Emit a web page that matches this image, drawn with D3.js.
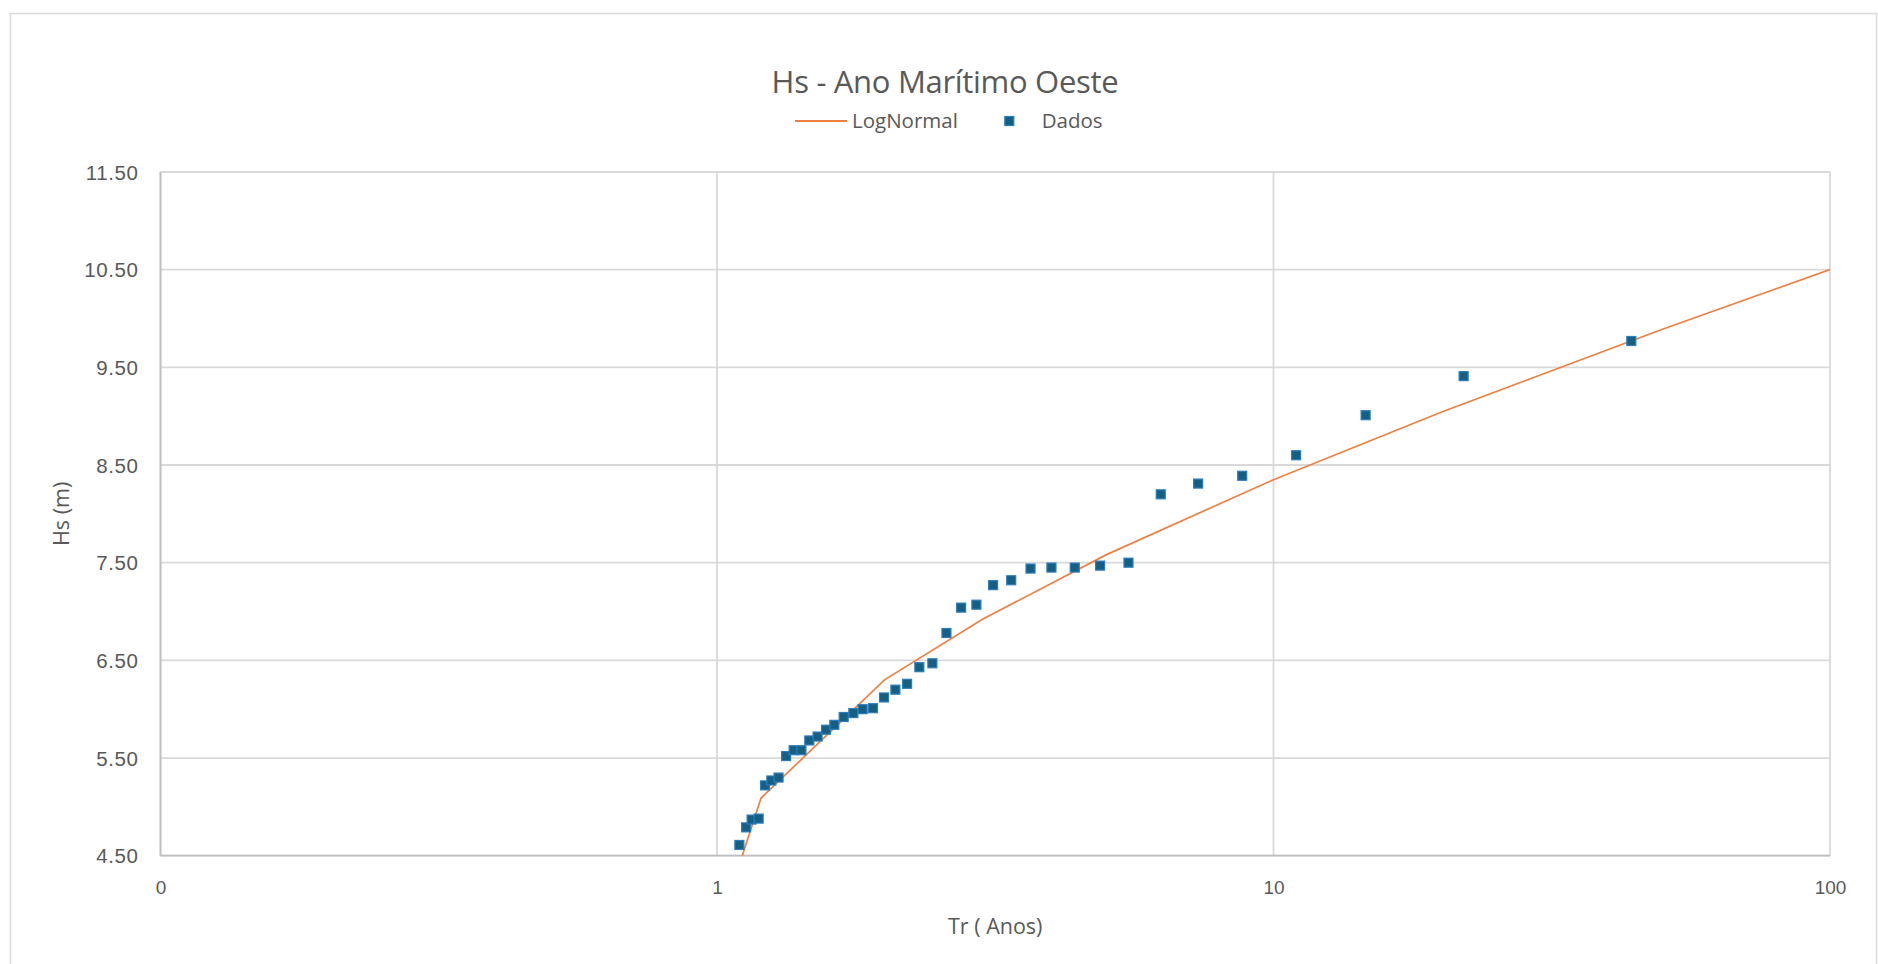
<!DOCTYPE html>
<html>
<head>
<meta charset="utf-8">
<script src="https://cdn.jsdelivr.net/npm/d3@7"></script>
<style>
  html, body { margin: 0; padding: 0; background: #ffffff; }
  svg { display: block; }
  text { font-family: "Open Sans", "Noto Sans", sans-serif; fill: #595959; }
</style>
</head>
<body>
<svg id="chart" width="1878" height="964"></svg>
<script>
// Observed return periods (years) and significant wave heights (m)
const dataReturnPeriod = [1.097, 1.128, 1.154, 1.188, 1.220, 1.252, 1.290, 1.331, 1.373, 1.418,
                          1.465, 1.516, 1.570, 1.625, 1.689, 1.758, 1.827, 1.907, 1.996, 2.092,
                          2.196, 2.310, 2.438, 2.584, 2.746, 2.925, 3.134, 3.378, 3.659, 3.990,
                          4.394, 4.880, 5.488, 6.272, 7.32, 8.785, 10.98, 14.64, 21.96, 43.95];
const dataHs = [4.61, 4.79, 4.87, 4.88, 5.22, 5.27, 5.30, 5.52, 5.58, 5.58,
                5.68, 5.72, 5.79, 5.84, 5.92, 5.96, 6.00, 6.01, 6.12, 6.20,
                6.26, 6.43, 6.47, 6.78, 7.04, 7.07, 7.27, 7.32, 7.44, 7.45,
                7.45, 7.47, 7.50, 8.20, 8.31, 8.39, 8.60, 9.01, 9.41, 9.77];

// Fitted LogNormal curve
const fitReturnPeriod = [1.01, 1.2, 2, 3, 5, 10, 20, 50, 100];
const fitHs = [3.78, 5.09, 6.30, 6.92, 7.58, 8.35, 9.04, 9.89, 10.50];

// Axis ticks
const xTickValues = [0.1, 1, 10, 100];
const xTickLabels = ["0", "1", "10", "100"];
const yTickValues = [4.5, 5.5, 6.5, 7.5, 8.5, 9.5, 10.5, 11.5];
const yTickLabels = ["4.50", "5.50", "6.50", "7.50", "8.50", "9.50", "10.50", "11.50"];

const titleText = "Hs - Ano Marítimo Oeste";
const seriesNames = ["LogNormal", "Dados"];
const xTitle = "Tr ( Anos)";
const yTitle = "Hs (m)";

const W = 1878, H = 964;
const plot = { left: 160.5, top: 172, right: 1830, bottom: 855.7 };
const lineColor = "#EC8043";
const markerFill = "#156082";
const markerStroke = "#2B7DBF";
const gridColor = "#D9D9D9";
const axisColor = "#BFBFBF";

const svg = d3.select("#chart");

svg.append("rect").attr("x", 0).attr("y", 0).attr("width", W).attr("height", H).attr("fill", "#fff");
// chart frame
svg.append("rect")
  .attr("x", 10.5).attr("y", 13.5).attr("width", 1866).attr("height", 1000)
  .attr("fill", "none").attr("stroke", "#D9D9D9").attr("stroke-width", 1.5);

const x = d3.scaleLog().domain([0.1, 100]).range([plot.left, plot.right]);
const y = d3.scaleLinear().domain([4.5, 11.5]).range([plot.bottom, plot.top]);

// gridlines
const grid = svg.append("g");
grid.selectAll("line.h").data(yTickValues).join("line")
  .attr("x1", plot.left).attr("x2", plot.right)
  .attr("y1", d => y(d)).attr("y2", d => y(d))
  .attr("stroke", gridColor).attr("stroke-width", 1.8);
grid.selectAll("line.v").data(xTickValues).join("line")
  .attr("y1", plot.top).attr("y2", plot.bottom)
  .attr("x1", d => x(d)).attr("x2", d => x(d))
  .attr("stroke", gridColor).attr("stroke-width", 1.8);

// axis lines
svg.append("line").attr("x1", plot.left).attr("x2", plot.left)
  .attr("y1", plot.top).attr("y2", plot.bottom).attr("stroke", axisColor).attr("stroke-width", 1.8);
svg.append("line").attr("x1", plot.left).attr("x2", plot.right)
  .attr("y1", plot.bottom).attr("y2", plot.bottom).attr("stroke", axisColor).attr("stroke-width", 1.8);

// axes (labels only)
const xAxis = d3.axisBottom(x).tickValues(xTickValues)
  .tickFormat((d, i) => xTickLabels[i]).tickSize(0).tickPadding(0);
const gx = svg.append("g").attr("transform", `translate(0,${plot.bottom})`).call(xAxis);
gx.select(".domain").remove();
gx.selectAll("text").attr("y", 32).attr("dy", "0.35em")
  .style("font-family", "'Liberation Sans', Arial, sans-serif").style("font-size", "19px").attr("fill", "#595959");

const yAxis = d3.axisLeft(y).tickValues(yTickValues)
  .tickFormat((d, i) => yTickLabels[i]).tickSize(0).tickPadding(0);
const gy = svg.append("g").attr("transform", `translate(${plot.left},0)`).call(yAxis);
gy.select(".domain").remove();
gy.selectAll("text").attr("x", -22).attr("dy", "0.35em")
  .style("font-family", "'Liberation Sans', Arial, sans-serif").style("font-size", "20.5px")
  .style("letter-spacing", "0.6px").attr("fill", "#595959");

// clip region for the series
svg.append("clipPath").attr("id", "plotClip")
  .append("rect").attr("x", plot.left).attr("y", plot.top)
  .attr("width", plot.right - plot.left).attr("height", plot.bottom - plot.top);

const fit = fitReturnPeriod.map((t, i) => [t, fitHs[i]]);
const line = d3.line().x(d => x(d[0])).y(d => y(d[1]));
svg.append("path").datum(fit)
  .attr("clip-path", "url(#plotClip)")
  .attr("d", line).attr("fill", "none")
  .attr("stroke", lineColor).attr("stroke-width", 1.7);

const pts = dataReturnPeriod.map((t, i) => [t, dataHs[i]]);
const ms = 9;
svg.append("g").selectAll("rect").data(pts).join("rect")
  .attr("x", d => x(d[0]) - ms / 2).attr("y", d => y(d[1]) - ms / 2)
  .attr("width", ms).attr("height", ms)
  .attr("fill", markerFill).attr("stroke", markerStroke).attr("stroke-width", 1.2);

// title
svg.append("text").attr("x", 945).attr("y", 82).attr("dy", "0.35em")
  .attr("text-anchor", "middle").style("font-size", "31px").style("letter-spacing", "-0.3px")
  .text(titleText);

// legend
const lg = svg.append("g");
lg.append("line").attr("x1", 795).attr("x2", 847).attr("y1", 121).attr("y2", 121)
  .attr("stroke", lineColor).attr("stroke-width", 1.8);
lg.append("text").attr("x", 852).attr("y", 121).attr("dy", "0.35em")
  .style("font-size", "20.5px").text(seriesNames[0]);
lg.append("rect").attr("x", 1009.3 - ms / 2).attr("y", 121 - ms / 2).attr("width", ms).attr("height", ms)
  .attr("fill", markerFill).attr("stroke", markerStroke).attr("stroke-width", 1.2);
lg.append("text").attr("x", 1041.7).attr("y", 121).attr("dy", "0.35em")
  .style("font-size", "20.5px").text(seriesNames[1]);

// axis titles
svg.append("text").attr("x", (plot.left + plot.right) / 2).attr("y", 926).attr("dy", "0.35em")
  .attr("text-anchor", "middle").style("font-size", "21.5px").text(xTitle);
svg.append("text").attr("transform", `translate(61,${(plot.top + plot.bottom) / 2}) rotate(-90)`)
  .attr("dy", "0.35em").attr("text-anchor", "middle").style("font-size", "21.5px").text(yTitle);
</script>
</body>
</html>
